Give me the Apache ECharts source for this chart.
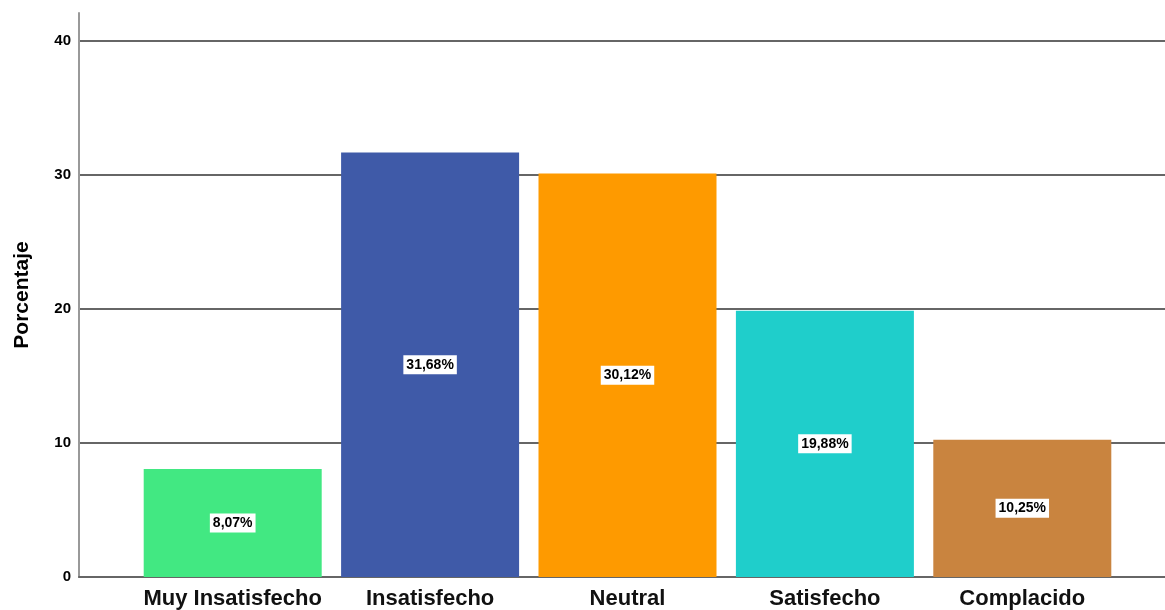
<!DOCTYPE html>
<html lang="es">
<head>
    <meta charset="UTF-8">
    <title>Porcentaje</title>
    <script src="https://cdn.jsdelivr.net/npm/echarts@6/dist/echarts.min.js"></script>
    <style>
        html, body { margin: 0; padding: 0; background: #fff; }
        #chart { width: 1165px; height: 610px; }
    </style>
</head>
<body>
    <div id="chart"></div>
    <script>
        // datos
        var categorias = ['Muy Insatisfecho', 'Insatisfecho', 'Neutral', 'Satisfecho', 'Complacido'];
        var porcentajes = [8.07, 31.68, 30.12, 19.88, 10.25];
        var colores = ['#42E882', '#3F5AA8', '#FE9A00', '#1FCECB', '#C9843F'];

        var chart = echarts.init(document.getElementById('chart'));

        var gridTop = 13, gridBottom = 33;
        var yMax = 42.1;

        var option = {
            animation: false,
            grid: [
                { left: 79, right: 0, top: gridTop, bottom: gridBottom },
                { left: 134, width: 987, top: gridTop, bottom: gridBottom }
            ],
            xAxis: [
                {
                    type: 'value', gridIndex: 0, min: 0, max: 1,
                    axisLine: { show: true, lineStyle: { color: '#666', width: 2 } },
                    axisTick: { show: false }, axisLabel: { show: false }, splitLine: { show: false }
                },
                {
                    type: 'category', gridIndex: 1, data: categorias,
                    axisLine: { show: false }, axisTick: { show: false },
                    axisLabel: {
                        color: '#111', fontSize: 22, fontWeight: 'bold',
                        fontFamily: 'Liberation Sans, Arial, sans-serif',
                        margin: 11, interval: 0
                    }
                }
            ],
            yAxis: [
                {
                    type: 'value', gridIndex: 0, min: 0, max: yMax, interval: 10,
                    name: 'Porcentaje', nameLocation: 'middle', nameGap: 46,
                    nameTextStyle: { fontSize: 21, fontWeight: 'bold', color: '#000', fontFamily: 'Liberation Sans, Arial, sans-serif' },
                    axisLine: { show: true, lineStyle: { color: '#999', width: 2 } },
                    axisTick: { show: false },
                    axisLabel: {
                        showMaxLabel: false, color: '#000', fontSize: 15, fontWeight: 'bold',
                        fontFamily: 'Liberation Sans, Arial, sans-serif', margin: 8
                    },
                    splitLine: { show: true, showMaxLine: false, showMinLine: false, lineStyle: { color: '#666', width: 2 } }
                },
                {
                    type: 'value', gridIndex: 1, min: 0, max: yMax, show: false, splitLine: { show: false }
                }
            ],
            series: [{
                type: 'bar',
                xAxisIndex: 1, yAxisIndex: 1,
                barWidth: 178,
                data: porcentajes.map(function (v, i) {
                    return { value: v, itemStyle: { color: colores[i] } };
                }),
                label: {
                    show: true, position: 'inside',
                    formatter: function (p) { return p.value.toFixed(2).replace('.', ',') + '%'; },
                    backgroundColor: '#fff', color: '#000', fontSize: 14, fontWeight: 'bold',
                    fontFamily: 'Liberation Sans, Arial, sans-serif',
                    padding: [3, 3, 2, 3]
                }
            }]
        };
        chart.setOption(option);
    </script>
</body>
</html>
